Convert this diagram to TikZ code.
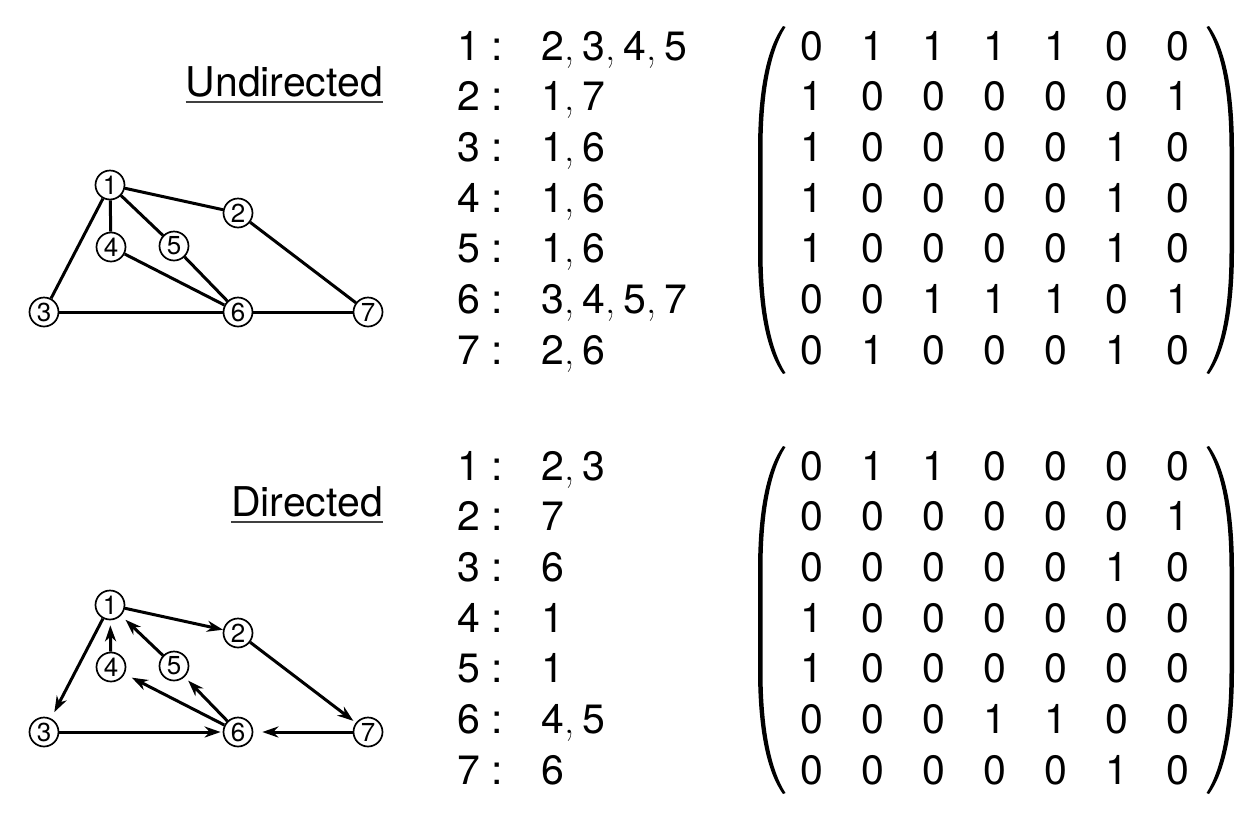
\documentclass[tikz,border=0pt]{standalone}
\usepackage{fontspec}
\setmainfont{TeX Gyre Heros}
\newfontfamily\lmfont{Latin Modern Roman}
\usetikzlibrary{arrows.meta}
\newcommand{\cm}{{\lmfont,}\hspace{0.2em}}
\begin{document}
\begin{tikzpicture}[x=1pt,y=-1pt,
  vtx/.style={circle, draw, line width=1.7pt, minimum size=29pt, inner sep=0pt, fill=white, font=\fontsize{26}{26}\selectfont},
  edge/.style={line width=3pt},
  arc/.style={edge, -{Stealth[length=16pt, width=11pt, inset=5pt]}},
  lst/.style={anchor=base west, inner sep=0pt, font=\fontsize{41}{41}\selectfont},
  ent/.style={anchor=base, inner sep=0pt, font=\fontsize{41}{41}\selectfont},
  ttl/.style={anchor=base east, inner sep=0pt, font=\fontsize{41}{41}\selectfont},
  uline/.style={line width=2pt, black!75},
  paren/.style={fill=black}]
\useasboundingbox (0,0) rectangle (1250,817);

% ---------- Undirected ----------
\node[ttl] (tu) at (383,96.5) {Undirected};
\draw[uline] ([yshift=-5.5pt]tu.base west) -- ([yshift=-5.5pt]tu.base east);

\node[vtx] (u1) at (110,185) {1};
\node[vtx] (u2) at (238,213) {2};
\node[vtx] (u3) at (44,312) {3};
\node[vtx] (u4) at (111,247) {4};
\node[vtx] (u5) at (174,246) {5};
\node[vtx] (u6) at (238,312) {6};
\node[vtx] (u7) at (368,312) {7};
\draw[edge] (u1) -- (u2);
\draw[edge] (u1) -- (u3);
\draw[edge] (u1) -- (u4);
\draw[edge] (u1) -- (u5);
\draw[edge] (u2) -- (u7);
\draw[edge] (u3) -- (u6);
\draw[edge] (u4) -- (u6);
\draw[edge] (u5) -- (u6);
\draw[edge] (u6) -- (u7);

\foreach \v [count=\r] in {{2\cm3\cm4\cm5},{1\cm7},{1\cm6},{1\cm6},{1\cm6},{3\cm4\cm5\cm7},{2\cm6}} {
  \node[lst] (ul\r) at (457,{60+50.7*(\r-1)}) {\r\;:};
  \node[lst] (uv\r) at (541,{60+50.7*(\r-1)}) {\v};
}
\foreach \row [count=\r] in {{0,1,1,1,1,0,0},{1,0,0,0,0,0,1},{1,0,0,0,0,1,0},{1,0,0,0,0,1,0},{1,0,0,0,0,1,0},{0,0,1,1,1,0,1},{0,1,0,0,0,1,0}} {
  \foreach \e [count=\c] in \row {
    \node[ent] (um\r\c) at ({812+61*(\c-1)},{60+50.7*(\r-1)}) {\e};
  }
}
\fill[paren] (783,26) .. controls (767,48) and (758,90) .. (758,150) -- (758,250) .. controls (758,310) and (767,352) .. (783,374)
  -- (785.5,373) .. controls (771,350) and (762.5,310) .. (762.5,250) -- (762.5,150) .. controls (762.5,90) and (771,50) .. (785.5,27) -- cycle;
\fill[paren] (1209,26) .. controls (1225,48) and (1234,90) .. (1234,150) -- (1234,250) .. controls (1234,310) and (1225,352) .. (1209,374)
  -- (1206.5,373) .. controls (1221,350) and (1229.5,310) .. (1229.5,250) -- (1229.5,150) .. controls (1229.5,90) and (1221,50) .. (1206.5,27) -- cycle;

% ---------- Directed ----------
\node[ttl] (td) at (383,516.5) {Directed};
\draw[uline] ([yshift=-5.5pt]td.base west) -- ([yshift=-5.5pt]td.base east);

\node[vtx] (d1) at (110,605) {1};
\node[vtx] (d2) at (238,633) {2};
\node[vtx] (d3) at (44,732) {3};
\node[vtx] (d4) at (111,667) {4};
\node[vtx] (d5) at (174,666) {5};
\node[vtx] (d6) at (238,732) {6};
\node[vtx] (d7) at (368,732) {7};
\draw[arc] (d1) -- (d2);
\draw[arc, shorten >=7pt] (d1) -- (d3);
\draw[arc, shorten >=5pt] (d4) -- (d1);
\draw[arc, shorten >=6pt] (d5) -- (d1);
\draw[arc, shorten >=3pt] (d2) -- (d7);
\draw[arc, shorten >=2pt] (d3) -- (d6);
\draw[arc, shorten >=8pt] (d6) -- (d4);
\draw[arc, shorten >=5pt] (d6) -- (d5);
\draw[arc, shorten >=9pt] (d7) -- (d6);

\foreach \v [count=\r] in {{2\cm3},7,6,1,1,{4\cm5},6} {
  \node[lst] (dl\r) at (457,{480+50.7*(\r-1)}) {\r\;:};
  \node[lst] (dv\r) at (541,{480+50.7*(\r-1)}) {\v};
}
\foreach \row [count=\r] in {{0,1,1,0,0,0,0},{0,0,0,0,0,0,1},{0,0,0,0,0,1,0},{1,0,0,0,0,0,0},{1,0,0,0,0,0,0},{0,0,0,1,1,0,0},{0,0,0,0,0,1,0}} {
  \foreach \e [count=\c] in \row {
    \node[ent] (dm\r\c) at ({812+61*(\c-1)},{480+50.7*(\r-1)}) {\e};
  }
}
\fill[paren] (783,446) .. controls (767,468) and (758,510) .. (758,570) -- (758,670) .. controls (758,730) and (767,772) .. (783,794)
  -- (785.5,793) .. controls (771,770) and (762.5,730) .. (762.5,670) -- (762.5,570) .. controls (762.5,510) and (771,470) .. (785.5,447) -- cycle;
\fill[paren] (1209,446) .. controls (1225,468) and (1234,510) .. (1234,570) -- (1234,670) .. controls (1234,730) and (1225,772) .. (1209,794)
  -- (1206.5,793) .. controls (1221,770) and (1229.5,730) .. (1229.5,670) -- (1229.5,570) .. controls (1229.5,510) and (1221,470) .. (1206.5,447) -- cycle;
\end{tikzpicture}
\end{document}
